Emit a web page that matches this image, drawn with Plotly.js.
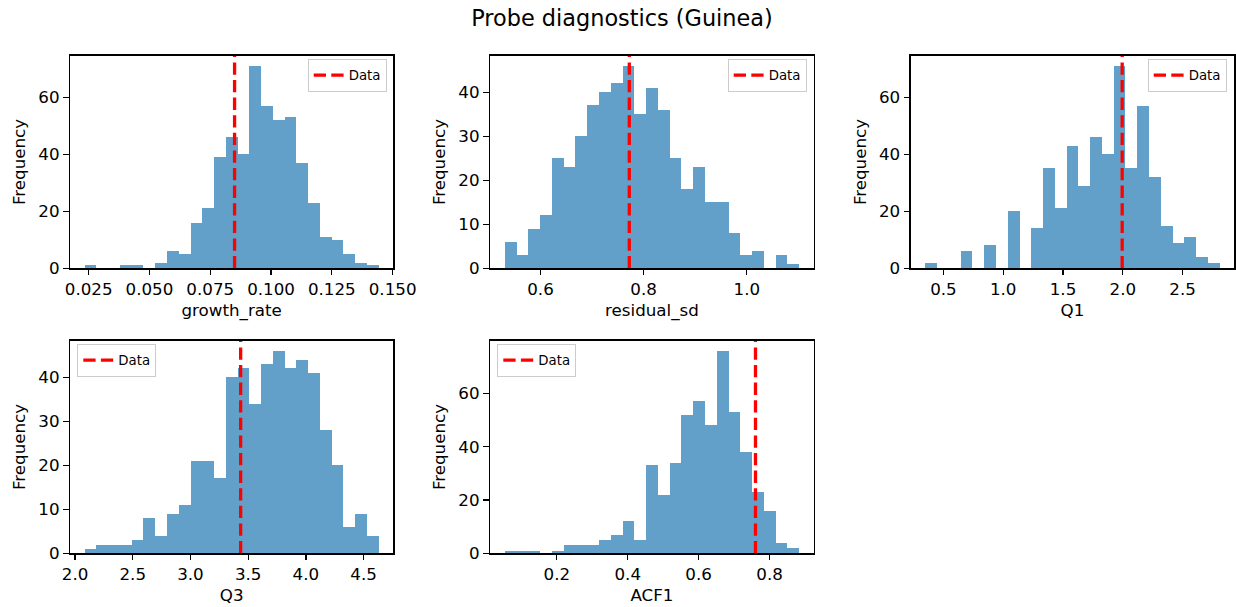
<!DOCTYPE html>
<html>
<head>
<meta charset="utf-8">
<script src="https://cdn.plot.ly/plotly-3.0.1.min.js"></script>
<style>html,body{margin:0;padding:0;background:#fff;}#chart{width:1236px;height:607px;}</style>
</head>
<body>
<div id="chart"></div>
<script>
// ---- data ----
const chartTitle = "Probe diagnostics (Guinea)";
const varNames = ["growth_rate", "residual_sd", "Q1", "Q3", "ACF1"];

const growthRateCounts = [1,0,0,1,1,0,2,6,5,16,21,39,46,40,71,57,52,53,37,23,11,10,5,2,1];
const residualSdCounts = [6,3,9,12,25,23,30,37,40,42,46,35,41,36,25,18,23,15,15,8,3,4,0,3,1];
const q1Counts = [2,0,0,6,0,8,0,20,0,14,35,21,43,29,46,40,71,35,57,32,15,9,11,4,2];
const q3Counts = [1,2,2,2,3,8,4,9,11,21,21,17,40,42,34,43,46,42,44,41,28,20,6,9,4];
const acf1Counts = [1,1,1,0,1,3,3,3,5,7,12,5,33,22,34,52,57,48,76,53,38,23,16,4,2];

// first bin edge and bin width of each histogram
const binStarts = [0.02336, 0.5307, 0.3494, 2.0837, 0.0531];
const binWidths = [0.004835, 0.02284, 0.09841, 0.10185, 0.03323];

// observed ("Data") values
const observedValues = [0.0850, 0.7722, 1.995, 3.4348, 0.7604];

// tick values / labels
const xTickVals = [
  [0.025, 0.05, 0.075, 0.1, 0.125, 0.15],
  [0.6, 0.8, 1.0],
  [0.5, 1.0, 1.5, 2.0, 2.5],
  [2.0, 2.5, 3.0, 3.5, 4.0, 4.5],
  [0.2, 0.4, 0.6, 0.8]
];
const xTickText = [
  ["0.025", "0.050", "0.075", "0.100", "0.125", "0.150"],
  ["0.6", "0.8", "1.0"],
  ["0.5", "1.0", "1.5", "2.0", "2.5"],
  ["2.0", "2.5", "3.0", "3.5", "4.0", "4.5"],
  ["0.2", "0.4", "0.6", "0.8"]
];
const yTickVals = [
  [0, 20, 40, 60],
  [0, 10, 20, 30, 40],
  [0, 20, 40, 60],
  [0, 10, 20, 30, 40],
  [0, 20, 40, 60]
];
const legendName = "Data";
const yLabel = "Frequency";

// ---- build ----
const allCounts = [growthRateCounts, residualSdCounts, q1Counts, q3Counts, acf1Counts];
const W = 1236, H = 607;
// panel boxes in pixels [left, right, top, bottom]
const boxes = [
  [70, 393.3, 55.7, 268.3],
  [490, 814, 55.7, 268.3],
  [910.7, 1234.3, 55.7, 268.3],
  [70, 393.3, 340.7, 553.3],
  [490, 814, 340.7, 553.3]
];
const legendPos = [
  {x: 386.7, y: 59, xanchor: 'right'},
  {x: 806.7, y: 59, xanchor: 'right'},
  {x: 1226.7, y: 59, xanchor: 'right'},
  {x: 77.3, y: 344, xanchor: 'left'},
  {x: 497.3, y: 344, xanchor: 'left'}
];

const FONT = "DejaVu Sans, sans-serif";
const barColor = "rgba(31,119,180,0.7)";
const traces = [];
const layout = {
  width: W, height: H,
  margin: {l: 0, r: 0, t: 0, b: 0},
  paper_bgcolor: "#fff", plot_bgcolor: "#fff",
  font: {family: FONT, size: 16.7, color: "#000"},
  bargap: 0,
  barmode: 'overlay',
  title: {text: chartTitle, x: 622 / W, xanchor: 'center', y: 1 - 18 / H, yanchor: 'middle',
          font: {family: FONT, size: 22.4, color: "#000"}}
};

for (let k = 0; k < 5; k++) {
  const counts = allCounts[k];
  const n = counts.length;
  const start = binStarts[k], bw = binWidths[k];
  const centers = counts.map((_, i) => start + (i + 0.5) * bw);
  const end = start + n * bw;
  const span = end - start;
  const xr = [start - 0.05 * span, end + 0.05 * span];
  const ymax = Math.max(...counts) * 1.05;
  const sfx = k === 0 ? '' : String(k + 1);
  const xa = 'x' + sfx, ya = 'y' + sfx;
  const lg = 'legend' + sfx;
  traces.push({
    type: 'bar', x: centers, y: counts, width: centers.map(() => bw),
    xaxis: xa, yaxis: ya, marker: {color: barColor, line: {width: 0}},
    showlegend: false, hoverinfo: 'skip'
  });
  traces.push({
    type: 'scatter', mode: 'lines', x: [observedValues[k], observedValues[k]], y: [0, ymax],
    xaxis: xa, yaxis: ya, name: legendName, legend: lg, showlegend: true,
    line: {color: 'red', width: 3.3, dash: '12.3px,5.3px'}
  });
  const b = boxes[k];
  const common = {
    showline: true, mirror: true, linecolor: '#000', linewidth: 1.33,
    ticks: 'outside', ticklen: 5.8, tickwidth: 1.33, tickcolor: '#000',
    showgrid: false, zeroline: false,
    tickfont: {family: FONT, size: 16.7, color: '#000'}
  };
  layout['xaxis' + sfx] = Object.assign({}, common, {
    domain: [b[0] / W, b[1] / W], anchor: ya, range: xr,
    tickmode: 'array', tickvals: xTickVals[k], ticktext: xTickText[k],
    title: {text: varNames[k], font: {family: FONT, size: 16.7, color: '#000'}, standoff: 6}
  });
  layout['yaxis' + sfx] = Object.assign({}, common, {
    domain: [1 - b[3] / H, 1 - b[2] / H], anchor: xa, range: [0, ymax],
    tickmode: 'array', tickvals: yTickVals[k], ticktext: yTickVals[k].map(String),
    title: {text: yLabel, font: {family: FONT, size: 16.7, color: '#000'}, standoff: 8}
  });
  const lp = legendPos[k];
  layout[lg] = {
    x: lp.x / W, y: 1 - lp.y / H, xanchor: lp.xanchor, yanchor: 'top',
    xref: 'paper', yref: 'paper',
    bgcolor: 'rgba(255,255,255,0.8)', bordercolor: '#cccccc', borderwidth: 1,
    font: {family: FONT, size: 13.3, color: '#000'},
    itemwidth: 30, tracegroupgap: 0
  };
}

Plotly.newPlot('chart', traces, layout, {staticPlot: true, displayModeBar: false});
</script>
</body>
</html>
